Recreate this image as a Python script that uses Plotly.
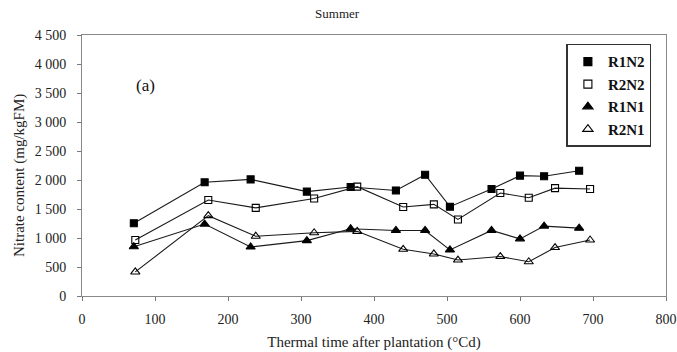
import plotly.graph_objects as go

x_filled = [71, 168, 231, 308, 368, 430, 470, 504, 561, 600, 633, 681]
x_open = [73, 173, 238, 318, 377, 440, 482, 515, 573, 612, 648, 696]

r1n2 = [1255, 1960, 2010, 1800, 1880, 1820, 2090, 1540, 1845, 2075, 2065, 2160]
r2n2 = [965, 1655, 1520, 1680, 1885, 1535, 1580, 1320, 1775, 1695, 1860, 1845]
r1n1 = [850, 1240, 845, 955, 1160, 1130, 1130, 795, 1130, 985, 1205, 1170]
r2n1 = [415, 1385, 1030, 1090, 1115, 805, 725, 620, 680, 590, 835, 965]

y_ticks = [0, 500, 1000, 1500, 2000, 2500, 3000, 3500, 4000, 4500]
y_ticktext = ["0", "500", "1 000", "1 500", "2 000", "2 500", "3 000", "3 500", "4 000", "4 500"]
x_ticks = [0, 100, 200, 300, 400, 500, 600, 700, 800]

font_family = "Liberation Serif"

fig = go.Figure()
series = [
    ("R1N2", x_filled, r1n2, "square", 7),
    ("R2N2", x_open, r2n2, "square-open", 7),
    ("R1N1", x_filled, r1n1, "triangle-up", 8),
    ("R2N1", x_open, r2n1, "triangle-up-open", 8),
]
for name, xs, ys, sym, sz in series:
    fig.add_trace(go.Scatter(
        x=xs, y=ys, name=name, mode="lines+markers", showlegend=False,
        line=dict(color="#1a1a1a", width=1.1),
        marker=dict(symbol=sym, size=sz, color="black",
                    line=dict(color="black", width=1.1)),
    ))
# legend entries (markers only)
for name, xs, ys, sym, sz in series:
    fig.add_trace(go.Scatter(
        x=[None], y=[None], name=name, mode="markers", showlegend=True,
        marker=dict(symbol=sym, size=sz + 1, color="black",
                    line=dict(color="black", width=1.1)),
    ))

fig.update_layout(
    width=677, height=352,
    margin=dict(l=82, r=11, t=35, b=56),
    paper_bgcolor="white", plot_bgcolor="white",
    font=dict(family=font_family, size=13, color="#222"),
    legend=dict(
        x=0.975, y=0.966, xanchor="right", yanchor="top",
        bgcolor="white", bordercolor="#333", borderwidth=1.5,
        font=dict(family=font_family, size=15, color="#111", weight="bold"),
        tracegroupgap=0, itemwidth=30,
    ),
    title=dict(text="Summer", x=0.498, xanchor="center", y=0.963, yanchor="middle",
               font=dict(family=font_family, size=13, color="#222")),
    annotations=[
        dict(text="(a)", x=0.108, y=0.805, xref="paper", yref="paper",
             showarrow=False, xanchor="center", yanchor="middle",
             font=dict(family=font_family, size=17, color="#111")),
        dict(text="Nitrate content (mg/kgFM)", x=-0.106, y=0.46, xref="paper", yref="paper",
             showarrow=False, xanchor="center", yanchor="middle", textangle=-90,
             font=dict(family=font_family, size=15, color="#222")),
    ],
)
fig.update_xaxes(
    range=[0, 800], tickvals=x_ticks, ticks="outside", ticklen=4, tickcolor="#777",
    ticklabelstandoff=6, automargin=False,
    showline=True, linecolor="#888", linewidth=1, mirror=True, showgrid=False, zeroline=False,
    title=dict(text="Thermal time after plantation (°Cd)", standoff=10,
               font=dict(family=font_family, size=15, color="#222")),
    tickfont=dict(family=font_family, size=14, color="#222"),
)
fig.update_yaxes(
    range=[0, 4500], tickvals=y_ticks, ticktext=y_ticktext, ticks="outside", ticklen=4, tickcolor="#777",
    ticklabelstandoff=8, automargin=False,
    showline=True, linecolor="#888", linewidth=1, mirror=True, showgrid=False, zeroline=False,
    tickfont=dict(family=font_family, size=14, color="#222"),
)

fig.write_html("out.html")
